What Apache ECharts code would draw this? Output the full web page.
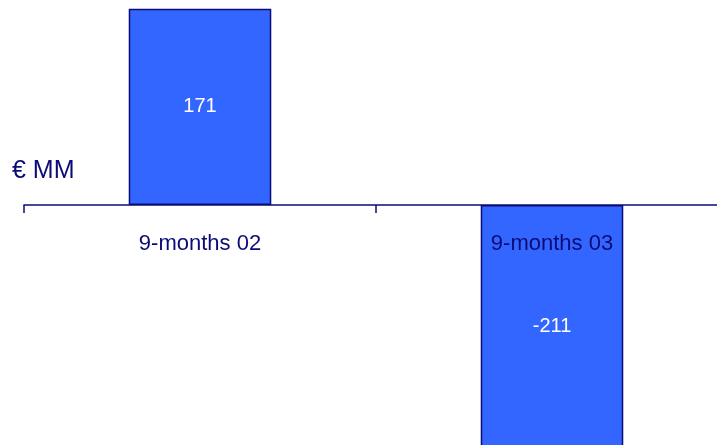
<!DOCTYPE html>
<html>
<head>
<meta charset="utf-8">
<style>
  html, body { margin: 0; padding: 0; background: #ffffff; }
  #chart { width: 717px; height: 445px; }
</style>
<script src="https://cdn.jsdelivr.net/npm/echarts@6/dist/echarts.min.js"></script>
</head>
<body>
<div id="chart"></div>
<script>
// Net result by period, in € millions
const categories = ['9-months 02', '9-months 03'];
const values = [171, -211];
const unitLabel = '€ MM';

const navy = '#0c0c78';
const barBlue = '#3366ff';
const font = 'Liberation Sans, Arial, sans-serif';

const chart = echarts.init(document.getElementById('chart'));
chart.setOption({
  animation: false,
  backgroundColor: '#ffffff',
  textStyle: { fontFamily: font },
  title: {
    text: unitLabel,
    left: 12,
    top: 159,
    padding: 0,
    textStyle: { color: navy, fontSize: 25, fontWeight: 'normal', fontFamily: font }
  },
  // The grid's lower edge is the zero line; the loss bar runs on below it.
  grid: { left: 24, top: 0, width: 704, height: 205, outerBoundsMode: 'none', containLabel: false },
  xAxis: {
    type: 'category',
    data: categories,
    position: 'bottom',
    z: 5,
    boundaryGap: true,
    axisLine: { onZero: false, lineStyle: { color: navy, width: 1.5 } },
    axisTick: { show: true, length: 8, lineStyle: { color: navy, width: 1.5 } },
    axisLabel: { color: navy, fontSize: 22, margin: 28, fontFamily: font },
    splitLine: { show: false }
  },
  yAxis: {
    type: 'value',
    min: 0,
    max: 178.6,
    show: false
  },
  series: [{
    type: 'bar',
    data: values,
    clip: false,
    barWidth: '40.5%',
    itemStyle: { color: barBlue, borderColor: navy, borderWidth: 1.5 },
    label: {
      show: true,
      position: 'inside',
      color: '#ffffff',
      fontSize: 20,
      fontFamily: font
    }
  }]
});
</script>
</body>
</html>
